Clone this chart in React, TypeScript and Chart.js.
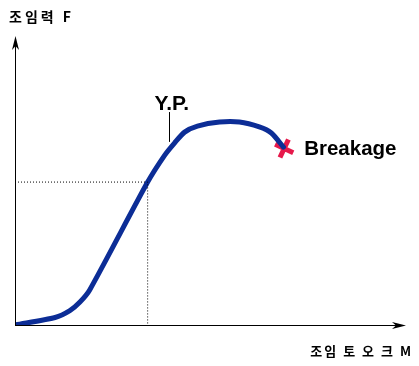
import React, { useEffect, useRef } from "react";
import { Chart, registerables } from "chart.js";

Chart.register(...registerables);

// Tightening torque M (x) vs clamping force F (y), arbitrary units 0..100
const curveTorque = [0, 10.3, 14.1, 16.7, 19.2, 34.1, 38.5, 41.0, 43.6, 46.9, 52.6, 57.7, 62.8, 65.9, 69.0];
const curveForce = [0, 2.6, 5.0, 8.0, 12.2, 49.8, 59.2, 63.4, 67.2, 69.3, 70.7, 70.7, 69.0, 66.9, 62.0];

const refPointTorque = 34.1;
const refPointForce = 49.8;

const yieldTorque = 39.5;
const yieldTickForce = [63.8, 74.2];

const breakTorque = [69.2];
const breakForce = [61.5];

const yAxisTitle = "조임력 F";
const xAxisTitle = "조임 토 오 크 M";
const yieldLabel = "Y.P.";
const breakLabel = "Breakage";

const annotate = {
  id: "annotate",
  afterDatasetsDraw(chart: any) {
    const { ctx, chartArea, scales } = chart;
    const xs = scales.x;
    const ys = scales.y;
    const x0 = chartArea.left;
    const y0 = chartArea.bottom;
    ctx.save();
    ctx.strokeStyle = "#000";
    ctx.fillStyle = "#000";
    ctx.lineWidth = 1;
    // y axis
    ctx.beginPath();
    ctx.moveTo(x0 + 0.5, y0);
    ctx.lineTo(x0 + 0.5, chartArea.top);
    ctx.stroke();
    ctx.beginPath();
    ctx.moveTo(x0 + 0.5, chartArea.top - 2);
    ctx.lineTo(x0 - 3, chartArea.top + 12);
    ctx.lineTo(x0 + 0.5, chartArea.top + 8);
    ctx.lineTo(x0 + 4, chartArea.top + 12);
    ctx.closePath();
    ctx.fill();
    // x axis
    ctx.beginPath();
    ctx.moveTo(x0, y0 + 0.5);
    ctx.lineTo(chartArea.right, y0 + 0.5);
    ctx.stroke();
    ctx.beginPath();
    ctx.moveTo(chartArea.right + 2, y0 + 0.5);
    ctx.lineTo(chartArea.right - 12, y0 - 3);
    ctx.lineTo(chartArea.right - 8, y0 + 0.5);
    ctx.lineTo(chartArea.right - 12, y0 + 4);
    ctx.closePath();
    ctx.fill();

    // yield tick
    const yx = Math.round(xs.getPixelForValue(yieldTorque)) + 0.5;
    const yTop = ys.getPixelForValue(yieldTickForce[1]);
    ctx.beginPath();
    ctx.moveTo(yx, ys.getPixelForValue(yieldTickForce[0]));
    ctx.lineTo(yx, yTop);
    ctx.stroke();

    ctx.textBaseline = "alphabetic";
    ctx.font = "bold 21px 'Liberation Sans', Arial, sans-serif";
    ctx.textAlign = "left";
    ctx.fillText(yieldLabel, yx - 15, yTop - 2);

    const bx = xs.getPixelForValue(breakTorque[0]);
    const by = ys.getPixelForValue(breakForce[0]);
    ctx.font = "bold 20.5px 'Liberation Sans', Arial, sans-serif";
    ctx.fillText(breakLabel, bx + 20, by + 7);

    ctx.font = "bold 14px 'Noto Sans CJK KR', sans-serif";
    (ctx as any).letterSpacing = "3px";
    ctx.textBaseline = "middle";
    ctx.textAlign = "left";
    ctx.fillText(yAxisTitle, 9, 17);
    ctx.textAlign = "right";
    (ctx as any).letterSpacing = "2px";
    ctx.font = "bold 13px 'Noto Sans CJK KR', sans-serif";
    ctx.fillText(xAxisTitle, 413, 351);
    ctx.restore();
  },
};

export default function App() {
  const ref = useRef<HTMLCanvasElement>(null);
  useEffect(() => {
    const curve = curveTorque.map((x, i) => ({ x, y: curveForce[i] }));
    const chart = new Chart(ref.current!, {
      type: "scatter",
      data: {
        datasets: [
          {
            data: [
              { x: 0, y: refPointForce },
              { x: refPointTorque, y: refPointForce },
              { x: refPointTorque, y: 0 },
            ],
            showLine: true,
            borderColor: "#000",
            borderWidth: 1,
            borderDash: [1, 2],
            pointRadius: 0,
          },
          {
            data: curve,
            showLine: true,
            borderColor: "#0c2d96",
            borderWidth: 5,
            tension: 0.25,
            pointRadius: 0,
            borderCapStyle: "round",
            borderJoinStyle: "round",
          },
          {
            data: breakTorque.map((x, i) => ({ x, y: breakForce[i] })),
            pointStyle: "cross",
            rotation: 25,
            pointRadius: 10,
            borderColor: "#e6194b",
            borderWidth: 5,
          },
        ],
      },
      options: {
        animation: false,
        responsive: false,
        layout: { padding: { left: 15, right: 14, top: 38, bottom: 41 } },
        plugins: { legend: { display: false }, tooltip: { enabled: false } },
        scales: {
          x: { type: "linear", min: 0, max: 100, display: false },
          y: { type: "linear", min: 0, max: 100, display: false },
        },
      },
      plugins: [annotate],
    });
    return () => chart.destroy();
  }, []);
  return (
    <div style={{ position: "fixed", left: 0, top: 0, width: 419, height: 366, background: "#fff" }}>
      <canvas ref={ref} width={419} height={366} />
    </div>
  );
}
